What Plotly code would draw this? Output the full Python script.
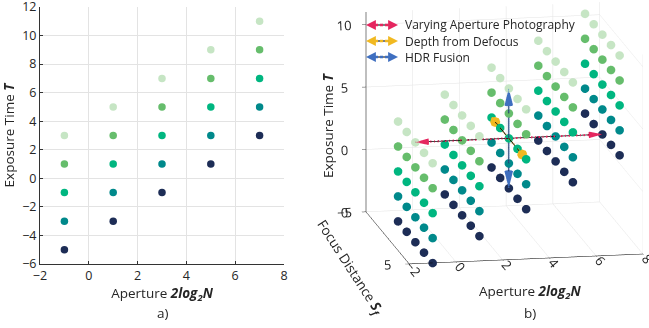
import plotly.graph_objects as go

# ---------------- data ----------------
aperture = [-1, 1, 3, 5, 7]
# exposure times per aperture column, ordered from darkest (lowest) to lightest (highest)
exposure = {
    -1: [-5, -3, -1, 1, 3],
    1: [-3, -1, 1, 3, 5],
    3: [-1, 1, 3, 5, 7],
    5: [1, 3, 5, 7, 9],
    7: [3, 5, 7, 9, 11],
}
focus = [1, 2, 3, 4, 5]
level_colors = ["#1d2d56", "#00898b", "#00b680", "#66bd6c", "#c6e5c4"]

# arrows in panel b: centre and half-lengths
arrow_center = (3, 3, 3)
arrow_half = {"x": 4, "s": 2, "t": 4}
arrow_names = ["Varying Aperture Photography", "Depth from Defocus", "HDR Fusion"]
arrow_colors = ["#e5265f", "#f1b921", "#3f6fc0"]

FONT = "Open Sans"
W, H = 649, 328

fig = go.Figure()

# ---------------- panel a ----------------
for lvl in range(5):
    xs = [a for a in aperture]
    ys = [exposure[a][lvl] for a in aperture]
    fig.add_trace(go.Scatter(x=xs, y=ys, mode="markers", xaxis="x", yaxis="y",
                             marker=dict(size=7.5, color=level_colors[lvl], line=dict(width=0)),
                             showlegend=False, hoverinfo="skip"))

# ---------------- panel b (3D) ----------------
for lvl in range(5):
    xs, ss, ts = [], [], []
    for a in aperture:
        for s in focus:
            xs.append(a); ss.append(s); ts.append(exposure[a][lvl])
    fig.add_trace(go.Scatter3d(x=xs, y=ss, z=ts, mode="markers", scene="scene",
                               marker=dict(size=5, color=level_colors[lvl], line=dict(width=0), opacity=1),
                               showlegend=False, hoverinfo="skip"))

cx, cs, ct = arrow_center
segs = [
    ([cx - arrow_half["x"], cx + arrow_half["x"]], [cs, cs], [ct, ct], (1, 0, 0), 0.07),
    ([cx, cx], [cs - arrow_half["s"], cs + arrow_half["s"]], [ct, ct], (0, 1, 0), 0.11),
    ([cx, cx], [cs, cs], [ct - arrow_half["t"], ct + arrow_half["t"]], (0, 0, 1), 0.17),
]
for (ax_, as_, at_, d, sref), col in zip(segs, arrow_colors):
    fig.add_trace(go.Scatter3d(x=ax_, y=as_, z=at_, mode="lines", scene="scene",
                               line=dict(color="black", width=1.5), showlegend=False, hoverinfo="skip"))
    fig.add_trace(go.Scatter3d(x=ax_, y=as_, z=at_, mode="lines", scene="scene",
                               line=dict(color=col, width=4, dash="dash"), showlegend=False, hoverinfo="skip"))
    fig.add_trace(go.Cone(x=[ax_[1], ax_[0]], y=[as_[1], as_[0]], z=[at_[1], at_[0]],
                          u=[d[0], -d[0]], v=[d[1], -d[1]], w=[d[2], -d[2]],
                          anchor="tip", sizemode="absolute", sizeref=sref, scene="scene",
                          colorscale=[[0, col], [1, col]], showscale=False,
                          lighting=dict(ambient=1, diffuse=0, specular=0, roughness=1, fresnel=0),
                          hoverinfo="skip"))

axis_font = dict(family=FONT, size=12.5, color="#262626")
title_font = dict(family=FONT, size=13.5, color="#262626")

cam_center = dict(x=-0.109, y=-0.021, z=-0.184)
eye_dir = (-0.27, -1.44, 0.34)
cam_eye = dict(x=eye_dir[0] + cam_center["x"], y=eye_dir[1] + cam_center["y"], z=eye_dir[2] + cam_center["z"])

fig.update_layout(
    template="none",
    width=W, height=H,
    margin=dict(l=0, r=0, t=0, b=0, autoexpand=False),
    paper_bgcolor="white", plot_bgcolor="white",
    font=dict(family=FONT, color="#262626"),
    xaxis=dict(domain=[40 / W, 284 / W], range=[-2, 8], dtick=2, showgrid=True, automargin=False,
               gridcolor="#e3e3e3", zeroline=False, showline=True, linecolor="#333333",
               ticks="inside", ticklen=3, tickcolor="#333333", tickfont=axis_font,
               anchor="y", ticklabeloverflow="allow",
               title=dict(text="Aperture <b><i>2log<sub>2</sub>N</i></b>", font=title_font, standoff=4)),
    yaxis=dict(domain=[1 - 264 / H, 1 - 7 / H], range=[-6, 12], dtick=2, showgrid=True, automargin=False,
               gridcolor="#e3e3e3", zeroline=False, showline=True, linecolor="#333333",
               ticks="inside", ticklen=3, tickcolor="#333333", tickfont=axis_font,
               anchor="x", ticklabeloverflow="allow",
               title=dict(text="Exposure Time <b><i>T</i></b>", font=title_font, standoff=6)),
    scene=dict(
        domain=dict(x=[0.5, 1.0], y=[0.0, 1.0]),
        aspectmode="manual", aspectratio=dict(x=1.45, y=1.43, z=1.25),
        camera=dict(eye=cam_eye, up=dict(x=0, y=0, z=1),
                    center=cam_center, projection=dict(type="orthographic")),
        xaxis=dict(range=[-2, 8], dtick=2, title=dict(text=""), showbackground=False,
                   gridcolor="#e3e3e3", showline=True, linecolor="black", tickfont=axis_font,
                   zeroline=False, showspikes=False, ticks="outside", ticklen=4),
        yaxis=dict(range=[5, 0], dtick=5, title=dict(text=""), showbackground=False,
                   gridcolor="#e3e3e3", showline=True, linecolor="black", tickfont=axis_font,
                   zeroline=False, showspikes=False, ticks="outside", ticklen=4),
        zaxis=dict(range=[-5, 11], tickvals=[-5, 0, 5, 10], title=dict(text=""), showbackground=False,
                   gridcolor="#e3e3e3", showline=True, linecolor="black", tickfont=axis_font,
                   zeroline=False, showspikes=False, ticks="outside", ticklen=4),
    ),
)

ann = []
def text_ann(x, y, text, **kw):
    d = dict(x=x / W, y=1 - y / H, xref="paper", yref="paper", text=text, showarrow=False,
             xanchor="center", yanchor="middle", font=title_font)
    d.update(kw)
    ann.append(d)

text_ann(163, 313, "a)")
text_ann(530, 313, "b)")
text_ann(530, 292, "Aperture <b><i>2log<sub>2</sub>N</i></b>")
text_ann(328, 125, "Exposure Time <b><i>T</i></b>", textangle=-90)
text_ann(350, 268, "Focus Distance <b><i>S<sub>f</sub></i></b>", textangle=57)

shapes = []
row_y = [25, 41, 57]
for name, col, ry in zip(arrow_names, arrow_colors, row_y):
    yp = 1 - ry / H
    shapes.append(dict(type="line", xref="paper", yref="paper", x0=368 / W, x1=396 / W, y0=yp, y1=yp,
                       line=dict(color="black", width=1)))
    shapes.append(dict(type="line", xref="paper", yref="paper", x0=370 / W, x1=394 / W, y0=yp, y1=yp,
                       line=dict(color=col, width=2.5, dash="3px,2px")))
    ann.append(dict(x=398 / W, y=yp, xref="paper", yref="paper", ax=-8, ay=0, text="",
                    showarrow=True, arrowhead=2, arrowsize=0.9, arrowwidth=2.2, arrowcolor=col))
    ann.append(dict(x=366 / W, y=yp, xref="paper", yref="paper", ax=8, ay=0, text="",
                    showarrow=True, arrowhead=2, arrowsize=0.9, arrowwidth=2.2, arrowcolor=col))
    text_ann(403, ry, name, xanchor="left", font=dict(family=FONT, size=12, color="#262626"))

fig.update_layout(annotations=ann, shapes=shapes)
fig.write_html("out.html", config={"displayModeBar": False},
               post_script="document.body.style.margin='0px';")
